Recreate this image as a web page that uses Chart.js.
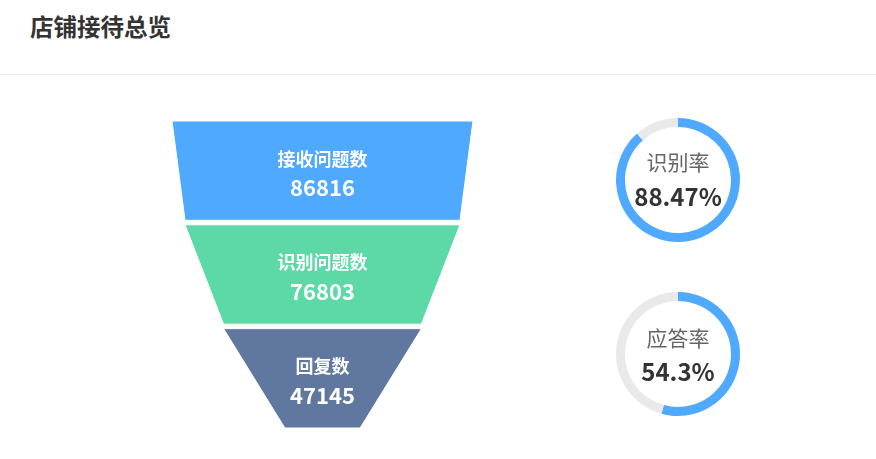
<!DOCTYPE html>
<html>
<head>
<meta charset="utf-8">
<script src="https://cdn.jsdelivr.net/npm/chart.js@4"></script>
<style>
  html, body { margin: 0; padding: 0; background: #fff; width: 876px; height: 459px; overflow: hidden; font-family: "Noto Sans CJK SC", "Noto Sans", sans-serif; }
  #title { position: absolute; left: 30px; top: 9px; font-size: 23.5px; font-weight: bold; color: #333; line-height: 34px; }
  #sep { position: absolute; left: 0; top: 74px; width: 876px; height: 1px; background: #ececec; }
  .cv { position: absolute; }
  .gtxt { position: absolute; width: 130px; text-align: center; }
  .glabel { font-size: 21px; color: #666; line-height: 24px; }
  .gval { font-size: 24px; font-weight: bold; color: #333; line-height: 28px; }
</style>
</head>
<body>
<div id="title">店铺接待总览</div>
<div id="sep"></div>
<div class="cv" style="left:162px;top:111px;width:321px;height:327px;"><canvas id="funnel"></canvas></div>
<div class="cv" style="left:613px;top:115px;width:130px;height:130px;"><canvas id="g1"></canvas></div>
<div class="cv" style="left:613px;top:289px;width:130px;height:130px;"><canvas id="g2"></canvas></div>
<div class="gtxt glabel" id="g1l" style="left:613px;top:149px;"></div>
<div class="gtxt gval" id="g1v" style="left:613px;top:182px;"></div>
<div class="gtxt glabel" id="g2l" style="left:613px;top:325px;"></div>
<div class="gtxt gval" id="g2v" style="left:613px;top:357px;"></div>
<script>
// ---- data ----
const funnelLabels = ['接收问题数', '识别问题数', '回复数'];
const funnelValues = [86816, 76803, 47145];
const funnelColors = ['#4ea9ff', '#5cd9a6', '#60789f'];
const gaugeLabels = ['识别率', '应答率'];
const gaugeValues = [88.47, 54.3];
const gaugeText = ['88.47%', '54.3%'];

// ---- funnel ----
const minFrac = 0.25;           // minimum size of funnel (fraction of max width)
const gapU = 0.045;             // gap between pieces (in piece-height units)
const maxV = Math.max(...funnelValues);
const extra = maxV * minFrac / (1 - minFrac);
const fullW = maxV + extra;
const halfW = v => (v + extra) / 2;

const funnelDatasets = funnelValues.map((v, i) => {
  const next = i < funnelValues.length - 1 ? funnelValues[i + 1] : 0;
  const top = i * (1 + gapU), bot = top + 1;
  const wt = halfW(v), wb = halfW(next);
  return {
    label: funnelLabels[i],
    data: [{x: -wt, y: top}, {x: wt, y: top}, {x: wb, y: bot}, {x: -wb, y: bot}, {x: -wt, y: top}],
    fill: 'shape',
    backgroundColor: funnelColors[i],
    borderColor: '#ffffff',
    borderWidth: 1,
    pointRadius: 0,
    pointHoverRadius: 0,
    tension: 0,
    clip: false
  };
});

const funnelLabelPlugin = {
  id: 'funnelLabels',
  afterDatasetsDraw(chart) {
    const ctx = chart.ctx, xs = chart.scales.x, ys = chart.scales.y;
    ctx.save();
    ctx.fillStyle = '#ffffff';
    ctx.textAlign = 'center';
    ctx.textBaseline = 'middle';
    funnelValues.forEach((v, i) => {
      const cy = ys.getPixelForValue(i * (1 + gapU) + 0.5);
      const cx = xs.getPixelForValue(0);
      ctx.font = 'bold 18px "Noto Sans CJK SC", sans-serif';
      ctx.fillText(funnelLabels[i], cx, cy - 12);
      ctx.font = 'bold 22px "Noto Sans CJK SC", sans-serif';
      ctx.fillText(String(v), cx, cy + 17);
    });
    ctx.restore();
  }
};

new Chart(document.getElementById('funnel'), {
  type: 'line',
  data: { datasets: funnelDatasets },
  options: {
    responsive: true, maintainAspectRatio: false, animation: false,
    layout: { padding: 10 },
    plugins: { legend: { display: false }, tooltip: { enabled: false } },
    events: [],
    scales: {
      x: { type: 'linear', display: false, min: -fullW / 2, max: fullW / 2 },
      y: { type: 'linear', display: false, reverse: true, min: 0, max: funnelValues.length + (funnelValues.length - 1) * gapU }
    }
  },
  plugins: [funnelLabelPlugin]
});

// ---- gauges ----
['g1', 'g2'].forEach((id, i) => {
  new Chart(document.getElementById(id), {
    type: 'doughnut',
    data: {
      labels: [gaugeLabels[i], ''],
      datasets: [{
        data: [gaugeValues[i], 100 - gaugeValues[i]],
        backgroundColor: ['#4ea9ff', '#e9e9e9'],
        borderWidth: 0
      }]
    },
    options: {
      responsive: true, maintainAspectRatio: false, animation: false,
      layout: { padding: 3 },
      cutout: 53,
      events: [],
      plugins: { legend: { display: false }, tooltip: { enabled: false } }
    }
  });
  document.getElementById(id + 'l').textContent = gaugeLabels[i];
  document.getElementById(id + 'v').textContent = gaugeText[i];
});
</script>
</body>
</html>
